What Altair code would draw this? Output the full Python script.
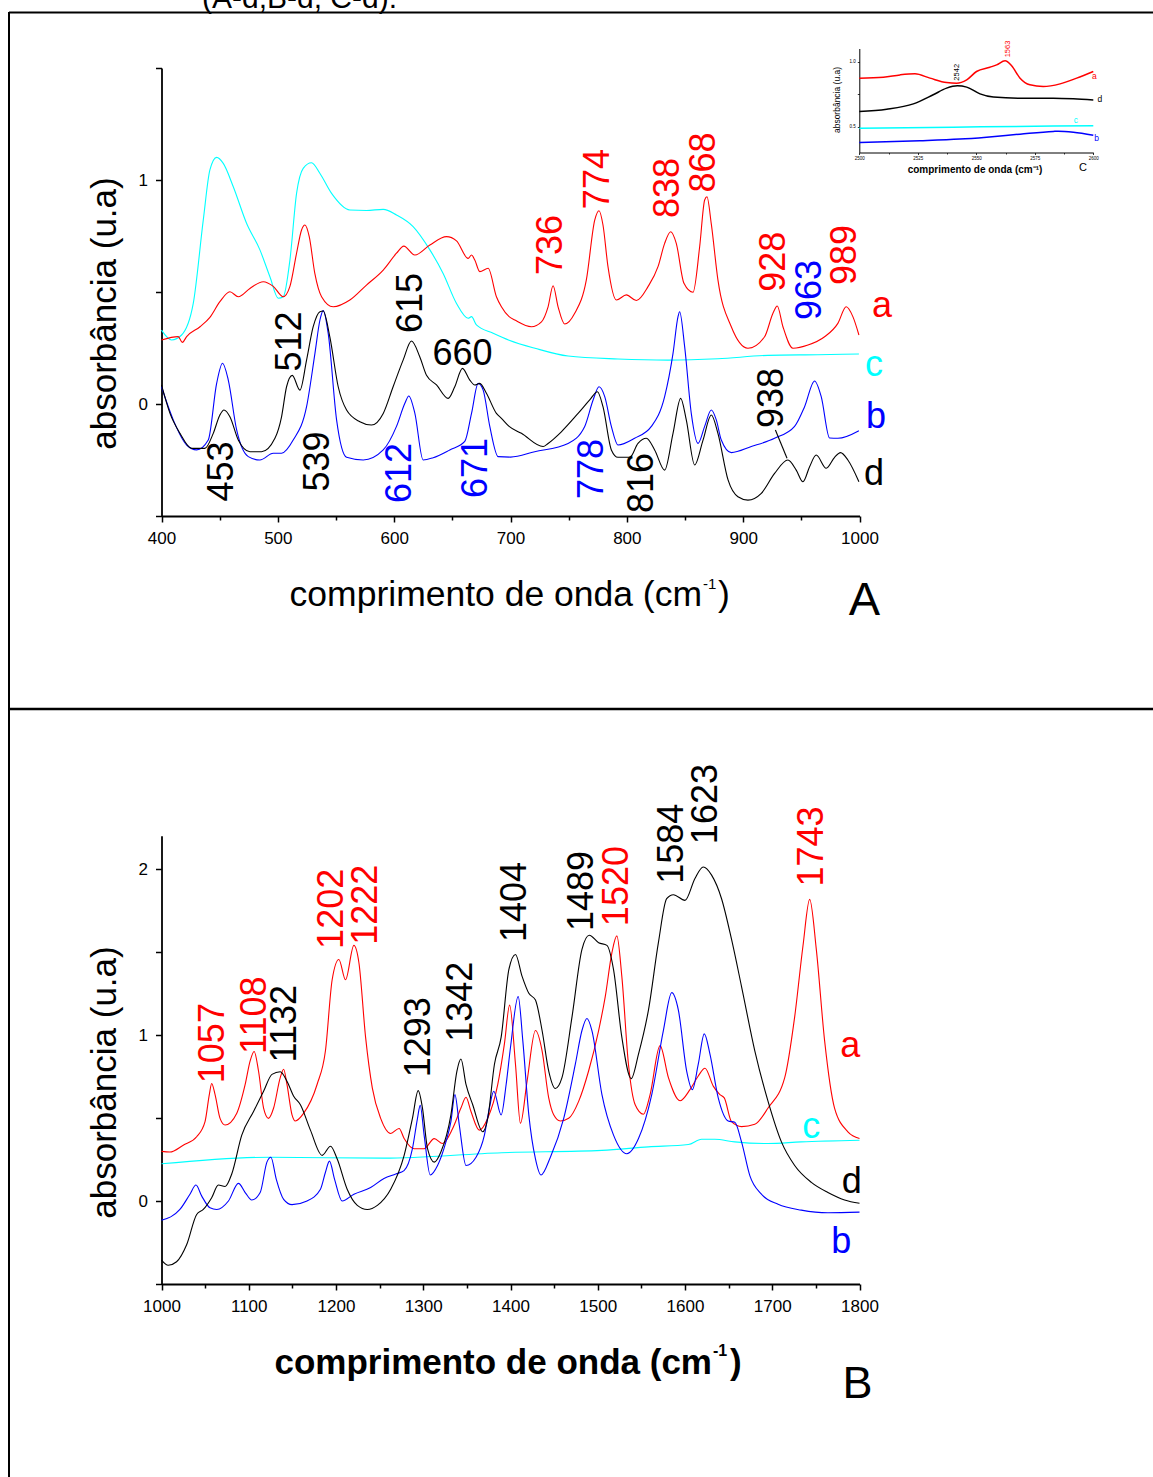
import altair as alt
import pandas as pd

W, H = 1153, 1477
FONT = "Liberation Sans, Arial, Helvetica, sans-serif"

# ---------------- data: panel A (400-1000 cm-1) ----------------
A_WN_a = [400, 414.4, 417.9, 421.6, 433.1, 441.6, 450.2, 458.8, 466, 476, 487.5, 496.1, 504.6, 510.4, 516.1,
          520.4, 523.3, 527, 531.8, 537.6, 547.6, 561.9, 576.2, 590.6, 602, 608.3, 617.8, 630.7, 645, 653.6,
          663.6, 666.5, 669.3, 673.6, 680.8, 687.9, 692.2, 698.8, 703.7, 718, 726.6, 732.3, 736.6, 740.9, 746.6,
          755.2, 765.2, 772.4, 776.1, 779.5, 783.8, 791, 799.6, 808.2, 818.2, 826.8, 832.5, 837.7, 842.5, 849.1,
          856.9, 862.6, 866.9, 868.9, 872.6, 878.3, 889.8, 904.1, 918.4, 925.6, 929.3, 934.2, 942.8, 955.7, 970,
          981.4, 988.6, 994.3, 999.5]
A_AB_a = [0.286, 0.301, 0.275, 0.301, 0.345, 0.387, 0.457, 0.501, 0.479, 0.516, 0.546, 0.525, 0.479, 0.525, 0.673,
          0.777, 0.799, 0.747, 0.583, 0.479, 0.434, 0.464, 0.531, 0.598, 0.673, 0.705, 0.665, 0.710, 0.747, 0.728,
          0.650, 0.665, 0.643, 0.591, 0.606, 0.479, 0.434, 0.390, 0.375, 0.345, 0.367, 0.434, 0.528, 0.434, 0.357,
          0.405, 0.554, 0.821, 0.863, 0.799, 0.613, 0.464, 0.487, 0.462, 0.524, 0.613, 0.717, 0.769, 0.717, 0.539,
          0.499, 0.702, 0.911, 0.925, 0.804, 0.554, 0.345, 0.249, 0.300, 0.405, 0.4375, 0.345, 0.249, 0.263, 0.300,
          0.360, 0.434, 0.390, 0.308]

A_WN_b = [400, 410.1, 421.6, 430.2, 440.2, 447.4, 452.5, 457.4, 464.6, 474.6, 484.6, 496.1, 503.2, 513.2, 524.7,
          531.9, 536.2, 539, 543.3, 550.5, 559.1, 573.4, 590.6, 602, 609.2, 612.6, 617.8, 624.9, 633.5, 647.8,
          660.7, 666.5, 672.2, 676.5, 682.2, 689.4, 700, 720.8, 749.5, 763.8, 771, 776.1, 781, 786.7, 792.4,
          806.7, 821.1, 832.5, 839.7, 844, 845.4, 849.7, 855.4, 861.2, 866.9, 872.6, 876.9, 881.2, 889.8, 907,
          927, 944.2, 952.8, 961.4, 967.1, 974.3, 981.4, 999.5]
A_AB_b = [0.077, -0.071, -0.183, -0.205, -0.161, 0.092, 0.182, 0.107, -0.116, -0.235, -0.25, -0.22, -0.22, -0.161, -0.012,
          0.226, 0.375, 0.417, 0.315, -0.071, -0.238, -0.25, -0.205, -0.1, 0.003, 0.036, -0.042, -0.25, -0.24, -0.205,
          -0.167, -0.042, 0.092, 0.062, -0.1, -0.235, -0.237, -0.213, -0.176, -0.1, 0.018, 0.077, 0.033, -0.1, -0.183,
          -0.153, -0.1, 0.033, 0.226, 0.390, 0.412, 0.256, -0.042, -0.176, -0.1, -0.027, -0.071, -0.161, -0.217, -0.19,
          -0.153, -0.1, -0.012, 0.103, 0.033, -0.152, -0.153, -0.119]

A_WN_c = [400, 408.7, 417.3, 427.3, 435.9, 441.6, 447.4, 453.1, 461.7, 473.1, 484.6, 493.2, 500.4, 504.7, 510.4,
          516.1, 521.8, 529, 536.1, 546.2, 561.9, 576.2, 590.6, 602, 616.3, 630.7, 642.1, 653.6, 663.6, 666.5,
          670.7, 685.1, 698.8, 721, 749.5, 792.4, 835.4, 878.3, 921.3, 964.2, 999.5]
A_AB_c = [0.330, 0.286, 0.308, 0.449, 0.821, 1.045, 1.101, 1.074, 0.970, 0.807, 0.688, 0.568, 0.472, 0.479, 0.643,
          0.940, 1.052, 1.077, 1.030, 0.940, 0.866, 0.864, 0.869, 0.844, 0.792, 0.688, 0.583, 0.449, 0.383, 0.390,
          0.353, 0.316, 0.285, 0.249, 0.214, 0.201, 0.196, 0.202, 0.217, 0.220, 0.223]

A_WN_d = [400, 407.3, 415.9, 425.9, 437.3, 444.5, 450.2, 453.7, 458.8, 466, 476, 486, 497.5, 503.2, 507.5, 512.4,
          519, 524.7, 530.4, 536.2, 539, 544.7, 551.9, 559.1, 570.5, 580.5, 590.6, 599.1, 607.7, 614.9, 622,
          627.8, 636.4, 646.4, 652.1, 658.7, 665, 669.3, 673.6, 679.3, 687.9, 692.2, 698.8, 709.4, 728, 732.3,
          743.7, 758.1, 768.1, 774.7, 779.5, 786.7, 792.4, 802.5, 809.6, 816.8, 823.9, 832.5, 839.7, 846.3, 851.1,
          858.3, 865.5, 872.6, 878.3, 887, 895.5, 904.1, 915.6, 927, 938.5, 945.6, 951.4, 957.1, 962.8, 971.4,
          978.6, 983.7, 990, 999.5]
A_AB_d = [0.085, -0.042, -0.131, -0.198, -0.198, -0.131, -0.049, -0.027, -0.057, -0.161, -0.213, -0.213, -0.153, -0.057, 0.077, 0.128,
          0.062, 0.196, 0.345, 0.412, 0.415, 0.300, 0.077, -0.027, -0.079, -0.094, -0.042, 0.077, 0.196, 0.281, 0.211,
          0.128, 0.085, 0.025, 0.077, 0.159, 0.107, 0.085, 0.092, 0.048, -0.042, -0.064, -0.100, -0.131, -0.190, -0.176,
          -0.124, -0.042, 0.018, 0.055, -0.012, -0.205, -0.238, -0.238, -0.176, -0.153, -0.205, -0.295, -0.131, 0.025, -0.071,
          -0.272, -0.161, -0.049, -0.131, -0.339, -0.414, -0.429, -0.399, -0.310, -0.250, -0.295, -0.347, -0.280, -0.228, -0.287,
          -0.238, -0.217, -0.250, -0.347]

# ---------------- data: panel B (1000-1800 cm-1) ----------------
B_WN_a = [1000, 1009.6, 1024.9, 1040.3, 1049.9, 1054.8, 1057.5, 1061.4, 1067.1, 1072.9, 1086.3, 1095.9, 1101.6, 1106.2,
          1111.2, 1117, 1122.7, 1128.5, 1136.1, 1140, 1143.8, 1149.6, 1153.4, 1163, 1178.3, 1187.9, 1195.6, 1203.3,
          1210.9, 1220.5, 1226.3, 1233.9, 1241.6, 1251.2, 1262.7, 1272.3, 1278.1, 1289.5, 1301, 1312.6, 1322.2,
          1333.7, 1343.2, 1349, 1354.7, 1364.3, 1373.9, 1385.4, 1393.1, 1399, 1405.7, 1411.4, 1419, 1428.6, 1436.2,
          1443.8, 1449.5, 1457.1, 1466.7, 1478.1, 1489.5, 1501, 1508.6, 1516.2, 1521.9, 1527.6, 1535.2, 1542.9,
          1552.4, 1560, 1571.4, 1581, 1594.3, 1605.7, 1615.2, 1622.9, 1632.4, 1640, 1645, 1653.3, 1664.8, 1680,
          1695.2, 1714.3, 1725.7, 1735.2, 1742.9, 1750.5, 1760, 1771.4, 1786.7, 1800]
B_AB_a = [0.299, 0.295, 0.336, 0.387, 0.478, 0.641, 0.708, 0.641, 0.498, 0.458, 0.529, 0.702, 0.844, 0.901,
          0.783, 0.560, 0.498, 0.560, 0.743, 0.794, 0.702, 0.519, 0.482, 0.529, 0.702, 0.905, 1.333, 1.455,
          1.333, 1.540, 1.434, 0.987, 0.682, 0.498, 0.407, 0.437, 0.376, 0.315, 0.315, 0.376, 0.346,
          0.437, 0.560, 0.625, 0.539, 0.427, 0.498, 0.702, 0.950, 1.180, 0.824, 0.468, 0.722, 1.027, 0.905,
          0.621, 0.519, 0.482, 0.498, 0.600, 0.783, 1.027, 1.231, 1.495, 1.597, 1.353, 0.824, 0.580,
          0.523, 0.641, 0.936, 0.743, 0.604, 0.671, 0.753, 0.800, 0.692, 0.641, 0.621, 0.478, 0.448, 0.462,
          0.560, 0.743, 1.109, 1.536, 1.817, 1.516, 0.966, 0.560, 0.417, 0.376]

B_WN_b = [1000, 1021.1, 1032.6, 1039.5, 1046, 1055.6, 1063.3, 1076.7, 1088.2, 1095.9, 1103.5, 1113.1, 1120.8, 1125.4,
          1131.5, 1140, 1149.6, 1166.8, 1182.2, 1187.9, 1192.5, 1198.3, 1207.1, 1220.5, 1239.7, 1255, 1268.5, 1278,
          1287.6, 1293.4, 1296.5, 1301, 1308, 1316.4, 1326, 1331.7, 1336.3, 1341.3, 1349, 1360.5, 1370.1, 1375.8,
          1380.8, 1389.3, 1395, 1400, 1408.8, 1414.1, 1421, 1428.6, 1435, 1445.7, 1461, 1474.3, 1481.9, 1487.6,
          1493.3, 1504.8, 1518.1, 1533.3, 1546.7, 1561.9, 1575.2, 1584.8, 1592.4, 1601.9, 1608.4, 1615.2, 1622.1,
          1628.6, 1638.1, 1649.5, 1657.1, 1664.8, 1674.3, 1687.6, 1706.7, 1733.3, 1763.8, 1800]
B_AB_b = [-0.116, -0.051, 0.041, 0.096, 0.031, -0.041, -0.051, 0.0, 0.106, 0.051, 0.006, 0.051, 0.234, 0.264,
          0.132, 0.010, -0.022, 0.0, 0.071, 0.173, 0.240, 0.132, 0.0, 0.041, 0.081, 0.136, 0.163, 0.183,
          0.315, 0.498, 0.576, 0.397, 0.157, 0.214, 0.356, 0.478, 0.641, 0.458, 0.214, 0.264, 0.397, 0.560,
          0.661, 0.519, 0.702, 0.926, 1.231, 0.966, 0.519, 0.254, 0.157, 0.264, 0.498, 0.824, 1.027, 1.099,
          1.027, 0.641, 0.397, 0.285, 0.376, 0.641, 1.027, 1.255, 1.150, 0.783, 0.671, 0.824, 1.007,
          0.885, 0.621, 0.482, 0.474, 0.356, 0.153, 0.041, -0.020, -0.055, -0.071, -0.067]

B_WN_c = [1000, 1124.6, 1255, 1390, 1504.8, 1558, 1603.8, 1619, 1634, 1657, 1695, 1733, 1800]
B_AB_c = [0.224, 0.264, 0.258, 0.291, 0.305, 0.326, 0.340, 0.372, 0.372, 0.356, 0.346, 0.356, 0.366]

B_WN_d = [1000, 1007.7, 1017.3, 1028.8, 1040.3, 1047.9, 1057.5, 1065.2, 1072.9, 1080.5, 1092, 1105.5, 1117, 1126.6,
          1136.1, 1143.8, 1151.5, 1159.2, 1170.7, 1184.1, 1193.7, 1201.3, 1212.8, 1224.4, 1235.9, 1247.4, 1262.7,
          1278.1, 1287.6, 1294.2, 1299.1, 1304.9, 1312.6, 1320.2, 1331.7, 1338.6, 1343.2, 1349, 1356.7, 1368.2,
          1373.9, 1381.6, 1389.3, 1398.1, 1405.7, 1413.3, 1421, 1428.6, 1436.2, 1443.8, 1451.4, 1459, 1470.5,
          1481.9, 1490.3, 1501, 1510.5, 1518.1, 1527.6, 1538.3, 1546.7, 1558.1, 1569.5, 1579, 1586.7, 1600, 1611.4,
          1620.9, 1630.5, 1641.9, 1653.3, 1664.8, 1680, 1695.2, 1710.5, 1725.7, 1744.8, 1763.8, 1782.9, 1800]
B_AB_d = [-0.356, -0.387, -0.366, -0.264, -0.081, -0.051, 0.020, 0.096, 0.087, 0.163, 0.397, 0.539, 0.661, 0.763,
          0.779, 0.722, 0.631, 0.580, 0.427, 0.275, 0.330, 0.254, 0.071, -0.026, -0.051, -0.026, 0.071,
          0.275, 0.498, 0.665, 0.560, 0.315, 0.234, 0.295, 0.519, 0.783, 0.855, 0.702, 0.580, 0.417,
          0.498, 0.824, 0.987, 1.394, 1.485, 1.353, 1.251, 1.211, 1.027, 0.783, 0.678, 0.743, 1.109,
          1.516, 1.601, 1.556, 1.540, 1.394, 0.987, 0.737, 0.885, 1.150, 1.556, 1.821, 1.845, 1.811, 1.943,
          2.012, 1.963, 1.821, 1.577, 1.292, 0.905, 0.600, 0.356, 0.214, 0.112, 0.051, 0.006, -0.014]

# ---------------- data: inset C (2500-2600 cm-1) ----------------
C_WN_a = [2500, 2510.3, 2517.4, 2523.8, 2530.2, 2537.3, 2541.6, 2545.9, 2550.1, 2555.8, 2558.7, 2562.3, 2565.1,
          2568.7, 2572.9, 2578.6, 2585.8, 2592.9, 2600]
C_AB_a = [0.872, 0.879, 0.897, 0.905, 0.872, 0.838, 0.833, 0.859, 0.923, 0.956, 0.974, 1.005, 0.967,
          0.872, 0.821, 0.808, 0.828, 0.872, 0.923]
C_WN_b = [2500, 2525.9, 2543, 2554.4, 2568.7, 2582.9, 2585, 2591.5, 2600]
C_AB_b = [0.377, 0.390, 0.403, 0.418, 0.441, 0.462, 0.464, 0.456, 0.433]
C_WN_c = [2500, 2540.2, 2582.9, 2600]
C_AB_c = [0.487, 0.495, 0.503, 0.505]
C_WN_d = [2500, 2511.7, 2523.1, 2531.6, 2537.3, 2541.9, 2545.9, 2551.6, 2557.3, 2568.7, 2582.9, 2591.5, 2600]
C_AB_d = [0.615, 0.633, 0.674, 0.744, 0.795, 0.813, 0.803, 0.751, 0.726, 0.718, 0.718, 0.713, 0.703]

# ---------------- peak annotations ----------------
A_PK_TXT = ["453", "512", "539", "615", "612", "671", "736", "774", "838", "868", "928", "963", "989", "938", "778", "816"]
A_PK_SER = ["d", "d", "d", "d", "b", "b", "a", "a", "a", "a", "a", "b", "a", "d", "b", "d"]
A_PK_WN = [452.4, 510.3, 534.6, 614.6, 604.7, 670.6, 734.9, 774.9, 835.0, 866.5, 926.6, 957.3, 987.4, 924.9, 770.4, 813.3]
A_PK_AB = [-0.301, 0.279, -0.257, 0.451, -0.308, -0.286, 0.710, 1.004, 0.964, 1.078, 0.635, 0.509, 0.665, 0.027, -0.290, -0.353]
A_HZ_TXT = ["660", "a", "c", "b", "d"]
A_HZ_SER = ["d", "a", "c", "b", "d"]
A_HZ_WN = [658.8, 1019.3, 1012.4, 1014.2, 1012.4]
A_HZ_AB = [0.223, 0.4375, 0.174, -0.058, -0.3125]
A_LEADER = dict(x=[927.7], y=[-0.116], x2=[937.7], y2=[-0.242])

B_PK_TXT = ["1057", "1108", "1132", "1202", "1222", "1293", "1342", "1404", "1489", "1520", "1584", "1623", "1743"]
B_PK_SER = ["a", "a", "d", "a", "a", "d", "d", "d", "d", "a", "d", "d", "a"]
B_PK_WN = [1058.5, 1107.4, 1141.9, 1195.6, 1233.9, 1295.3, 1343.2, 1405.7, 1481.9, 1521.9, 1584.8, 1623.6, 1745.5]
B_PK_AB = [0.951, 1.119, 1.068, 1.760, 1.785, 0.987, 1.200, 1.801, 1.867, 1.897, 2.152, 2.391, 2.136]
B_HZ_TXT = ["a", "c", "d", "b"]
B_HZ_SER = ["a", "c", "d", "b"]
B_HZ_WN = [1789.3, 1744.8, 1791.2, 1779.0]
B_HZ_AB = [0.936, 0.444, 0.112, -0.248]

C_PK_TXT = ["2542", "1563"]
C_PK_SER = ["d", "a"]
C_PK_WN = [2541.9, 2563.7]
C_PK_AB = [0.917, 1.096]
C_HZ_TXT = ["a", "d", "c", "b"]
C_HZ_SER = ["a", "d", "c", "b"]
C_HZ_WN = [2600.5, 2602.8, 2592.5, 2601.4]
C_HZ_AB = [0.885, 0.710, 0.551, 0.408]

# ---------------- layout (pixel frames of the three plots) ----------------
PANELS = {
    "A": dict(xd=[400, 1000], xr=[161.5, 859.5], yd=[-0.5, 1.5], yr=[516, 68]),
    "B": dict(xd=[1000, 1800], xr=[161.5, 859.5], yd=[-0.5, 2.2], yr=[1284, 835.8]),
    "C": dict(xd=[2500, 2600], xr=[859.3, 1093.3], yd=[0.3, 1.1], yr=[152.5, 48.5]),
}
COLOR = alt.Scale(domain=["a", "b", "c", "d"], range=["#ff0000", "#0000ff", "#00ffff", "#000000"])
ONE = alt.Data(values=[{"k": 0}])


def xs(p):
    P = PANELS[p]
    return alt.Scale(domain=P["xd"], range=P["xr"], nice=False, zero=False)


def ys(p):
    P = PANELS[p]
    return alt.Scale(domain=P["yd"], range=P["yr"], nice=False, zero=False)


def df_lines(pairs):
    rows = []
    for s, wn, ab in pairs:
        for a, b in zip(wn, ab):
            rows.append({"s": s, "wn": a, "ab": b})
    return pd.DataFrame(rows)


def df_text(txt, ser, wn, ab):
    return pd.DataFrame({"t": txt, "s": ser, "wn": wn, "ab": ab})


def common_axis(**kw):
    base = dict(grid=False, title=None, labelFont=FONT, labelColor="black", domainColor="black",
                tickColor="black", labelFlush=False, labelOverlap=False)
    base.update(kw)
    return alt.Axis(**base)


def lines(p, df, xaxis=None, yaxis=None, sw=1.1):
    return alt.Chart(df).mark_line(strokeWidth=sw, interpolate="monotone").encode(
        x=alt.X("wn:Q", scale=xs(p), axis=xaxis),
        y=alt.Y("ab:Q", scale=ys(p), axis=yaxis),
        color=alt.Color("s:N", scale=COLOR, legend=None),
        detail="s:N",
    )


def labels(p, df, size, angle=0):
    return alt.Chart(df).mark_text(font=FONT, fontSize=size, angle=angle, align="center", baseline="middle").encode(
        x=alt.X("wn:Q", scale=xs(p), axis=None),
        y=alt.Y("ab:Q", scale=ys(p), axis=None),
        text="t:N",
        color=alt.Color("s:N", scale=COLOR, legend=None),
    )


def ptext(txt, x, y, size, align="center", baseline="alphabetic", angle=0, weight="normal", color="black"):
    return alt.Chart(ONE).mark_text(text=txt, font=FONT, fontSize=size, align=align, baseline=baseline,
                                    angle=angle, fontWeight=weight, color=color).encode(
        x=alt.value(x), y=alt.value(y))


def prule(x, y, x2, y2, w=2):
    return alt.Chart(ONE).mark_rule(color="black", strokeWidth=w).encode(
        x=alt.value(x), y=alt.value(y), x2=alt.value(x2), y2=alt.value(y2))


# ---------------- axes ----------------
def xaxis(p, step, minor, offset, size=17, tick=6, mtick=4, pad=8, dw=1.8, tw=1.5):
    lo, hi = PANELS[p]["xd"]
    vals = []
    v = lo
    while v <= hi + 1e-9:
        vals.append(v)
        v += minor
    test = f"abs(datum.value % {step}) < 0.001"
    return common_axis(orient="bottom", offset=offset, values=vals,
                       labelExpr=f"{test} ? format(datum.value, 'd') : ''",
                       tickSize={"condition": {"test": test, "value": tick}, "value": mtick},
                       labelFontSize=size, labelPadding=pad, domainWidth=dw, tickWidth=tw)


def yaxis(offset, vals, expr, size=17, tick=6, pad=8, dw=1.8, tw=1.5):
    return common_axis(orient="left", offset=offset, values=vals, labelExpr=expr,
                       tickSize=tick, labelFontSize=size, labelPadding=pad, domainWidth=dw, tickWidth=tw)


INT_LABEL = "abs(datum.value - round(datum.value)) < 0.001 ? format(datum.value, 'd') : ''"

axA_x = xaxis("A", 100, 50, 516 - H)
axB_x = xaxis("B", 100, 50, 1284 - H)
axC_x = xaxis("C", 25, 12.5, 152.5 - H, size=4.5, tick=2, mtick=1.5, pad=1, dw=1, tw=0.8)

axA_y = yaxis(-161.5, [-0.5, 0.0, 0.5, 1.0, 1.5], INT_LABEL)
axB_y = yaxis(-161.5, [-0.5, 0.0, 0.5, 1.0, 1.5, 2.0], INT_LABEL)
axC_y = yaxis(-859.3, [0.5, 0.75, 1.0], "datum.value == 0.75 ? '' : format(datum.value, '.1f')",
              size=4.5, tick=2, pad=2, dw=1, tw=0.8)

# ---------------- layers ----------------
dfA = df_lines([("c", A_WN_c, A_AB_c), ("a", A_WN_a, A_AB_a), ("b", A_WN_b, A_AB_b), ("d", A_WN_d, A_AB_d)])
dfB = df_lines([("c", B_WN_c, B_AB_c), ("a", B_WN_a, B_AB_a), ("b", B_WN_b, B_AB_b), ("d", B_WN_d, B_AB_d)])
dfC = df_lines([("c", C_WN_c, C_AB_c), ("a", C_WN_a, C_AB_a), ("b", C_WN_b, C_AB_b), ("d", C_WN_d, C_AB_d)])

leader = alt.Chart(pd.DataFrame(A_LEADER)).mark_rule(color="black", strokeWidth=1.1).encode(
    x=alt.X("x:Q", scale=xs("A"), axis=None), y=alt.Y("y:Q", scale=ys("A"), axis=None),
    x2="x2:Q", y2="y2:Q")

layers = [
    # page frame
    prule(9, 12, 9, H, 2),
    prule(9, 12.5, W, 12.5, 2),
    prule(9, 709, W, 709, 2.4),
    ptext("(A-d,B-d, C-d).", 202, 7.5, 30, align="left"),
    # panel A
    lines("A", dfA, axA_x, axA_y),
    labels("A", df_text(A_PK_TXT, A_PK_SER, A_PK_WN, A_PK_AB), 36, angle=270),
    labels("A", df_text(A_HZ_TXT, A_HZ_SER, A_HZ_WN, A_HZ_AB), 36),
    leader,
    ptext("absorbância (u.a)", 116, 313.5, 35, angle=270),
    ptext("comprimento de onda (cm", 702, 606, 35.5, align="right"),
    ptext("-1", 703, 589, 15, align="left"),
    ptext(")", 718, 606, 35.5, align="left"),
    ptext("A", 864.5, 615, 47),
    # inset C
    lines("C", dfC, axC_x, axC_y, sw=1.5),
    labels("C", df_text(C_PK_TXT, C_PK_SER, C_PK_WN, C_PK_AB), 7.5, angle=270),
    labels("C", df_text(C_HZ_TXT, C_HZ_SER, C_HZ_WN, C_HZ_AB), 8.5),
    ptext("absorbância (u.a)", 840, 100, 8.5, angle=270),
    ptext("comprimento de onda (cm⁻¹)", 975, 173, 10, weight="bold"),
    ptext("C", 1083, 171, 11),
    # panel B
    lines("B", dfB, axB_x, axB_y),
    labels("B", df_text(B_PK_TXT, B_PK_SER, B_PK_WN, B_PK_AB), 36, angle=270),
    labels("B", df_text(B_HZ_TXT, B_HZ_SER, B_HZ_WN, B_HZ_AB), 36),
    ptext("absorbância (u.a)", 116, 1082.5, 35, angle=270),
    ptext("comprimento de onda (cm", 712, 1374, 35, align="right", weight="bold"),
    ptext("-1", 713, 1356, 16, align="left", weight="bold"),
    ptext(")", 730, 1374, 35, align="left", weight="bold"),
    ptext("B", 857.5, 1398, 45),
]

chart = alt.layer(*layers).resolve_scale(x="independent", y="independent").properties(
    width=W, height=H, padding=0, autosize=alt.AutoSizeParams(type="none"), background="white"
).configure_view(stroke=None)

chart.save("out.html", embed_options={"renderer": "svg", "actions": False})
